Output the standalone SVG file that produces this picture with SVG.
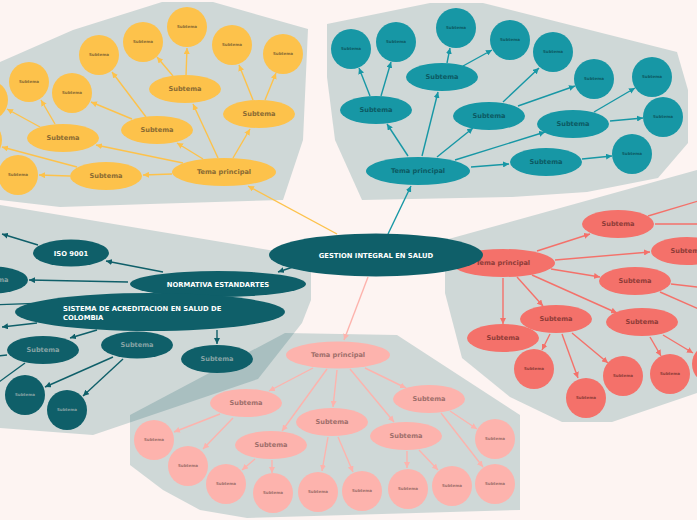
<svg xmlns="http://www.w3.org/2000/svg" width="697" height="520" viewBox="0 0 697 520">
<style>
text{font-family:"DejaVu Sans","Liberation Sans",sans-serif;font-weight:bold;text-anchor:middle}
.t{font-size:6.6px}
.c{font-size:4px}
.big{font-size:6.8px;fill:#ffffff}
.y ellipse,.y circle{fill:#fdc24b}.y text{fill:#8a6b33}
.tl ellipse,.tl circle{fill:#1797a5}.tl text{fill:#0c5a63}
.r ellipse,.r circle{fill:#f4716a}.r text{fill:#8f3c38}
.p ellipse,.p circle{fill:#fdb3ad}.p text{fill:#9f6f6b}
.d ellipse,.d circle{fill:#0f5f69}.d text{fill:#86a3a5}
.d text.big{fill:#ffffff}
.ey{stroke:#fdc24b;marker-end:url(#my)}
.et{stroke:#1797a5;marker-end:url(#mt)}
.er{stroke:#f4716a;marker-end:url(#mr)}
.ep{stroke:#fdb3ad;marker-end:url(#mp)}
.ed{stroke:#0f5f69;marker-end:url(#md)}
#connectors line{stroke-width:1.4;fill:none}
.zone{fill:#cfd8d7}
</style>
<defs>
<marker id="my" viewBox="0 0 10 10" refX="10" refY="5" markerWidth="6" markerHeight="6" markerUnits="userSpaceOnUse" orient="auto"><path d="M0,0 L10,5 L0,10 z" fill="#fdc24b"/></marker>
<marker id="mt" viewBox="0 0 10 10" refX="10" refY="5" markerWidth="6" markerHeight="6" markerUnits="userSpaceOnUse" orient="auto"><path d="M0,0 L10,5 L0,10 z" fill="#1797a5"/></marker>
<marker id="mr" viewBox="0 0 10 10" refX="10" refY="5" markerWidth="6" markerHeight="6" markerUnits="userSpaceOnUse" orient="auto"><path d="M0,0 L10,5 L0,10 z" fill="#f4716a"/></marker>
<marker id="mp" viewBox="0 0 10 10" refX="10" refY="5" markerWidth="6" markerHeight="6" markerUnits="userSpaceOnUse" orient="auto"><path d="M0,0 L10,5 L0,10 z" fill="#fdb3ad"/></marker>
<marker id="md" viewBox="0 0 10 10" refX="10" refY="5" markerWidth="6" markerHeight="6" markerUnits="userSpaceOnUse" orient="auto"><path d="M0,0 L10,5 L0,10 z" fill="#0f5f69"/></marker>
<clipPath id="clipLeft"><polygon points="0,205 311,257 311,300 302,323 258,379 93,435 0,428"/></clipPath>
</defs>
<rect width="697" height="520" fill="#fdf4f2"/>
<g id="zones">
<polygon class="zone" points="0,62 73,30 162,2 213,2 308,29 303,140 283,200 150,204 60,207 0,200"/>
<polygon class="zone" points="327,24 430,3 483,3 677,52 688,90 688,143 658,178 587,192 512,197 362,200 335,140 327,77"/>
<polygon class="zone" points="445,240 697,170 697,393 612,422 562,422 510,397 462,358 445,293"/>
<polygon class="zone" points="0,205 311,257 311,300 302,323 258,379 93,435 0,428"/>
<polygon class="zone" points="130,415 285,333 397,335 520,415 520,510 247,518 200,510 163,490 130,465"/>
<polygon points="130,415 285,333 397,335 520,415 520,510 247,518 200,510 163,490 130,465" fill="#a9bfc0" clip-path="url(#clipLeft)"/>
</g>
<g id="connectors">
<line class="ey" x1="337" y1="234" x2="248" y2="186"/>
<line class="ey" x1="233" y1="158" x2="250" y2="129"/>
<line class="ey" x1="218" y1="158" x2="193" y2="104"/>
<line class="ey" x1="203" y1="159" x2="177" y2="143"/>
<line class="ey" x1="183" y1="163" x2="96" y2="145"/>
<line class="ey" x1="172" y1="174" x2="143" y2="175"/>
<line class="ey" x1="77" y1="167" x2="2" y2="147"/>
<line class="ey" x1="70" y1="176" x2="39" y2="175"/>
<line class="ey" x1="40" y1="127" x2="7" y2="109"/>
<line class="ey" x1="55" y1="124" x2="41" y2="100"/>
<line class="ey" x1="132" y1="119" x2="91" y2="102"/>
<line class="ey" x1="146" y1="117" x2="112" y2="72"/>
<line class="ey" x1="173" y1="76" x2="157" y2="57"/>
<line class="ey" x1="186" y1="76" x2="187" y2="48"/>
<line class="ey" x1="253" y1="100" x2="239" y2="65"/>
<line class="ey" x1="265" y1="100" x2="276" y2="73"/>
<line class="et" x1="388" y1="234" x2="411" y2="186"/>
<line class="et" x1="408" y1="156" x2="387" y2="124"/>
<line class="et" x1="422" y1="156" x2="438" y2="92"/>
<line class="et" x1="437" y1="157" x2="473" y2="128"/>
<line class="et" x1="455" y1="160" x2="545" y2="132"/>
<line class="et" x1="471" y1="167" x2="509" y2="164"/>
<line class="et" x1="370" y1="96" x2="359" y2="68"/>
<line class="et" x1="381" y1="96" x2="391" y2="62"/>
<line class="et" x1="447" y1="63" x2="450" y2="48"/>
<line class="et" x1="463" y1="66" x2="492" y2="50"/>
<line class="et" x1="503" y1="102" x2="539" y2="68"/>
<line class="et" x1="518" y1="106" x2="575" y2="86"/>
<line class="et" x1="594" y1="112" x2="635" y2="88"/>
<line class="et" x1="610" y1="121" x2="643" y2="118"/>
<line class="et" x1="582" y1="159" x2="612" y2="156"/>
<line class="er" x1="537" y1="251" x2="590" y2="234"/>
<line class="er" x1="555" y1="260" x2="650" y2="252"/>
<line class="er" x1="551" y1="269" x2="600" y2="277"/>
<line class="er" x1="532" y1="275" x2="617" y2="313"/>
<line class="er" x1="517" y1="277" x2="543" y2="306"/>
<line class="er" x1="503" y1="278" x2="503" y2="324"/>
<line class="er" x1="550" y1="334" x2="542" y2="350"/>
<line class="er" x1="562" y1="334" x2="578" y2="378"/>
<line class="er" x1="572" y1="333" x2="608" y2="363"/>
<line class="er" x1="650" y1="337" x2="661" y2="356"/>
<line class="er" x1="663" y1="335" x2="693" y2="353"/>
<line class="er" x1="648" y1="216" x2="715" y2="196"/>
<line class="er" x1="655" y1="224" x2="715" y2="224"/>
<line class="er" x1="671" y1="284" x2="715" y2="289"/>
<line class="er" x1="660" y1="292" x2="715" y2="316"/>
<line class="ed" x1="296" y1="266" x2="278" y2="272"/>
<line class="ed" x1="163" y1="272" x2="106" y2="261"/>
<line class="ed" x1="128" y1="282" x2="29" y2="280"/>
<line class="ed" x1="38" y1="245" x2="2" y2="234"/>
<line class="ed" x1="130" y1="300" x2="-12" y2="305"/>
<line class="ed" x1="37" y1="323" x2="2" y2="327"/>
<line class="ed" x1="97" y1="330" x2="70" y2="338"/>
<line class="ed" x1="217" y1="330" x2="217" y2="344"/>
<line class="ed" x1="7" y1="355" x2="-12" y2="357"/>
<line class="ed" x1="25" y1="363" x2="-12" y2="390"/>
<line class="ed" x1="113" y1="357" x2="45" y2="387"/>
<line class="ed" x1="123" y1="359" x2="83" y2="396"/>
<line class="ep" x1="368" y1="277" x2="344" y2="340"/>
<line class="ep" x1="313" y1="368" x2="269" y2="391"/>
<line class="ep" x1="327" y1="369" x2="282" y2="431"/>
<line class="ep" x1="337" y1="370" x2="333" y2="407"/>
<line class="ep" x1="350" y1="369" x2="394" y2="422"/>
<line class="ep" x1="365" y1="368" x2="406" y2="388"/>
<line class="ep" x1="220" y1="414" x2="174" y2="432"/>
<line class="ep" x1="233" y1="418" x2="203" y2="449"/>
<line class="ep" x1="255" y1="459" x2="242" y2="470"/>
<line class="ep" x1="272" y1="460" x2="272" y2="473"/>
<line class="ep" x1="328" y1="437" x2="322" y2="471"/>
<line class="ep" x1="338" y1="437" x2="353" y2="472"/>
<line class="ep" x1="407" y1="451" x2="407" y2="468"/>
<line class="ep" x1="419" y1="450" x2="438" y2="470"/>
<line class="ep" x1="450" y1="411" x2="477" y2="429"/>
<line class="ep" x1="441" y1="413" x2="483" y2="467"/>
</g>
<g class="y">
<g id="y-tp"><ellipse cx="224" cy="172" rx="52" ry="14"/><text class="t" x="224" y="174.4">Tema principal</text></g>
<g id="y-s1"><ellipse cx="259" cy="114" rx="36" ry="14"/><text class="t" x="259" y="116.4">Subtema</text></g>
<g id="y-s2"><ellipse cx="185" cy="89" rx="36" ry="14"/><text class="t" x="185" y="91.4">Subtema</text></g>
<g id="y-s3"><ellipse cx="157" cy="130" rx="36" ry="14"/><text class="t" x="157" y="132.4">Subtema</text></g>
<g id="y-s4"><ellipse cx="63" cy="138" rx="36" ry="14"/><text class="t" x="63" y="140.4">Subtema</text></g>
<g id="y-s5"><ellipse cx="106" cy="176" rx="36" ry="14"/><text class="t" x="106" y="178.4">Subtema</text></g>
<g id="y-c1"><circle cx="187" cy="27" r="20"/><text class="c" x="187" y="28.4">Subtema</text></g>
<g id="y-c2"><circle cx="143" cy="42" r="20"/><text class="c" x="143" y="43.4">Subtema</text></g>
<g id="y-c3"><circle cx="99" cy="55" r="20"/><text class="c" x="99" y="56.4">Subtema</text></g>
<g id="y-c4"><circle cx="232" cy="45" r="20"/><text class="c" x="232" y="46.4">Subtema</text></g>
<g id="y-c5"><circle cx="283" cy="54" r="20"/><text class="c" x="283" y="55.4">Subtema</text></g>
<g id="y-c6"><circle cx="72" cy="93" r="20"/><text class="c" x="72" y="94.4">Subtema</text></g>
<g id="y-c7"><circle cx="29" cy="82" r="20"/><text class="c" x="29" y="83.4">Subtema</text></g>
<g id="y-c8"><circle cx="-12" cy="100" r="20"/></g>
<g id="y-c9"><circle cx="-18" cy="140" r="20"/></g>
<g id="y-c10"><circle cx="18" cy="175" r="20"/><text class="c" x="18" y="176.4">Subtema</text></g>
</g>
<g class="tl">
<g id="t-tp"><ellipse cx="418" cy="171" rx="52" ry="14"/><text class="t" x="418" y="173.4">Tema principal</text></g>
<g id="t-s1"><ellipse cx="376" cy="110" rx="36" ry="14"/><text class="t" x="376" y="112.4">Subtema</text></g>
<g id="t-s2"><ellipse cx="442" cy="77" rx="36" ry="14"/><text class="t" x="442" y="79.4">Subtema</text></g>
<g id="t-s3"><ellipse cx="489" cy="116" rx="36" ry="14"/><text class="t" x="489" y="118.4">Subtema</text></g>
<g id="t-s4"><ellipse cx="573" cy="124" rx="36" ry="14"/><text class="t" x="573" y="126.4">Subtema</text></g>
<g id="t-s5"><ellipse cx="546" cy="162" rx="36" ry="14"/><text class="t" x="546" y="164.4">Subtema</text></g>
<g id="t-c1"><circle cx="351" cy="49" r="20"/><text class="c" x="351" y="50.4">Subtema</text></g>
<g id="t-c2"><circle cx="396" cy="42" r="20"/><text class="c" x="396" y="43.4">Subtema</text></g>
<g id="t-c3"><circle cx="456" cy="28" r="20"/><text class="c" x="456" y="29.4">Subtema</text></g>
<g id="t-c4"><circle cx="510" cy="40" r="20"/><text class="c" x="510" y="41.4">Subtema</text></g>
<g id="t-c5"><circle cx="553" cy="52" r="20"/><text class="c" x="553" y="53.4">Subtema</text></g>
<g id="t-c6"><circle cx="594" cy="79" r="20"/><text class="c" x="594" y="80.4">Subtema</text></g>
<g id="t-c7"><circle cx="652" cy="77" r="20"/><text class="c" x="652" y="78.4">Subtema</text></g>
<g id="t-c8"><circle cx="663" cy="117" r="20"/><text class="c" x="663" y="118.4">Subtema</text></g>
<g id="t-c9"><circle cx="632" cy="154" r="20"/><text class="c" x="632" y="155.4">Subtema</text></g>
</g>
<g class="r">
<g id="r-tp"><ellipse cx="503" cy="263" rx="52" ry="14"/><text class="t" x="503" y="265.4">Tema principal</text></g>
<g id="r-s1"><ellipse cx="618" cy="224" rx="36" ry="14"/><text class="t" x="618" y="226.4">Subtema</text></g>
<g id="r-s2"><ellipse cx="687" cy="251" rx="36" ry="14"/><text class="t" x="687" y="253.4">Subtema</text></g>
<g id="r-s3"><ellipse cx="635" cy="281" rx="36" ry="14"/><text class="t" x="635" y="283.4">Subtema</text></g>
<g id="r-s4"><ellipse cx="556" cy="319" rx="36" ry="14"/><text class="t" x="556" y="321.4">Subtema</text></g>
<g id="r-s5"><ellipse cx="503" cy="338" rx="36" ry="14"/><text class="t" x="503" y="340.4">Subtema</text></g>
<g id="r-s6"><ellipse cx="642" cy="322" rx="36" ry="14"/><text class="t" x="642" y="324.4">Subtema</text></g>
<g id="r-c1"><circle cx="534" cy="369" r="20"/><text class="c" x="534" y="370.4">Subtema</text></g>
<g id="r-c2"><circle cx="586" cy="398" r="20"/><text class="c" x="586" y="399.4">Subtema</text></g>
<g id="r-c3"><circle cx="623" cy="376" r="20"/><text class="c" x="623" y="377.4">Subtema</text></g>
<g id="r-c4"><circle cx="670" cy="374" r="20"/><text class="c" x="670" y="375.4">Subtema</text></g>
<g id="r-c5"><circle cx="712" cy="364" r="20"/></g>
</g>
<g class="p">
<g id="p-tp"><ellipse cx="338" cy="355" rx="52" ry="13.5"/><text class="t" x="338" y="357.4">Tema principal</text></g>
<g id="p-s1"><ellipse cx="246" cy="403" rx="36" ry="14"/><text class="t" x="246" y="405.4">Subtema</text></g>
<g id="p-s2"><ellipse cx="271" cy="445" rx="36" ry="14"/><text class="t" x="271" y="447.4">Subtema</text></g>
<g id="p-s3"><ellipse cx="332" cy="422" rx="36" ry="14"/><text class="t" x="332" y="424.4">Subtema</text></g>
<g id="p-s4"><ellipse cx="406" cy="436" rx="36" ry="14"/><text class="t" x="406" y="438.4">Subtema</text></g>
<g id="p-s5"><ellipse cx="429" cy="399" rx="36" ry="14"/><text class="t" x="429" y="401.4">Subtema</text></g>
<g id="p-c1"><circle cx="154" cy="440" r="20"/><text class="c" x="154" y="441.4">Subtema</text></g>
<g id="p-c2"><circle cx="188" cy="466" r="20"/><text class="c" x="188" y="467.4">Subtema</text></g>
<g id="p-c3"><circle cx="226" cy="484" r="20"/><text class="c" x="226" y="485.4">Subtema</text></g>
<g id="p-c4"><circle cx="273" cy="493" r="20"/><text class="c" x="273" y="494.4">Subtema</text></g>
<g id="p-c5"><circle cx="318" cy="492" r="20"/><text class="c" x="318" y="493.4">Subtema</text></g>
<g id="p-c6"><circle cx="362" cy="491" r="20"/><text class="c" x="362" y="492.4">Subtema</text></g>
<g id="p-c7"><circle cx="408" cy="489" r="20"/><text class="c" x="408" y="490.4">Subtema</text></g>
<g id="p-c8"><circle cx="452" cy="486" r="20"/><text class="c" x="452" y="487.4">Subtema</text></g>
<g id="p-c9"><circle cx="495" cy="439" r="20"/><text class="c" x="495" y="440.4">Subtema</text></g>
<g id="p-c10"><circle cx="495" cy="484" r="20"/><text class="c" x="495" y="485.4">Subtema</text></g>
</g>
<g class="d">
<g id="d-s0"><ellipse cx="-8" cy="280" rx="36" ry="13.5"/><text class="t" x="-8" y="282.4">Subtema</text></g>
<g id="d-iso"><ellipse cx="71" cy="253" rx="38" ry="13.5"/><text class="big" x="71" y="255.5">ISO 9001</text></g>
<g id="d-norm"><ellipse cx="218" cy="284" rx="88" ry="13"/><text class="big" x="218" y="286.5">NORMATIVA ESTANDARTES</text></g>
<g id="d-sis"><ellipse cx="150" cy="312" rx="135" ry="19"/><text class="big" x="63" y="310.5" style="text-anchor:start">SISTEMA DE ACREDITACION EN SALUD DE</text><text class="big" x="63" y="319.5" style="text-anchor:start">COLOMBIA</text></g>
<g id="d-s1"><ellipse cx="43" cy="350" rx="36" ry="14"/><text class="t" x="43" y="352.4">Subtema</text></g>
<g id="d-s2"><ellipse cx="137" cy="345" rx="36" ry="13.5"/><text class="t" x="137" y="347.4">Subtema</text></g>
<g id="d-s3"><ellipse cx="217" cy="359" rx="36" ry="14"/><text class="t" x="217" y="361.4">Subtema</text></g>
<g id="d-c1"><circle cx="25" cy="395" r="20"/><text class="c" x="25" y="396.4">Subtema</text></g>
<g id="d-c2"><circle cx="67" cy="410" r="20"/><text class="c" x="67" y="411.4">Subtema</text></g>
</g>
<g id="center" class="d">
<ellipse cx="376" cy="255" rx="107" ry="21.5"/><text class="big" x="376" y="257.5">GESTION INTEGRAL EN SALUD</text>
</g>
</svg>
